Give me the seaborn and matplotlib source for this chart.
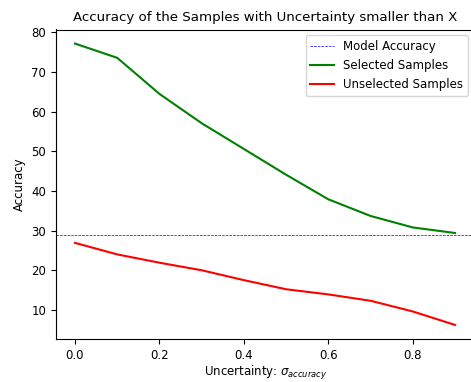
import matplotlib
matplotlib.use("Agg")
import matplotlib.pyplot as plt
import seaborn as sns
import pandas as pd

uncertainty = [0.0, 0.1, 0.2, 0.3, 0.4, 0.5, 0.6, 0.7, 0.8, 0.9]
selected = [77.2, 73.6, 64.5, 57.1, 50.6, 44.1, 37.9, 33.7, 30.8, 29.4]
unselected = [26.9, 24.0, 21.9, 20.0, 17.5, 15.2, 13.9, 12.3, 9.6, 6.2]
model_accuracy = 29.0

df = pd.DataFrame({"x": uncertainty, "sel": selected, "unsel": unselected})

fs = 8.5
fig = plt.figure(figsize=(4.71, 3.82), dpi=100)
ax = fig.add_axes([56/471, 1-339/382, 418/471, (339-29.5)/382])

ax.axhline(model_accuracy, color="blue", linestyle="--", linewidth=0.5,
           label="Model Accuracy")
sns.lineplot(data=df, x="x", y="sel", color="green", label="Selected Samples", ax=ax)
sns.lineplot(data=df, x="x", y="unsel", color="red", label="Unselected Samples", ax=ax)

ax.set_title("Accuracy of the Samples with Uncertainty smaller than X", fontsize=9.6)
ax.set_xlabel(r"Uncertainty: $\sigma_{accuracy}$", fontsize=fs, labelpad=2)
ax.set_ylabel("Accuracy", fontsize=fs)
ax.tick_params(labelsize=fs)
ax.legend(loc="upper right", fontsize=fs)

fig.savefig("out.png", dpi=100)
